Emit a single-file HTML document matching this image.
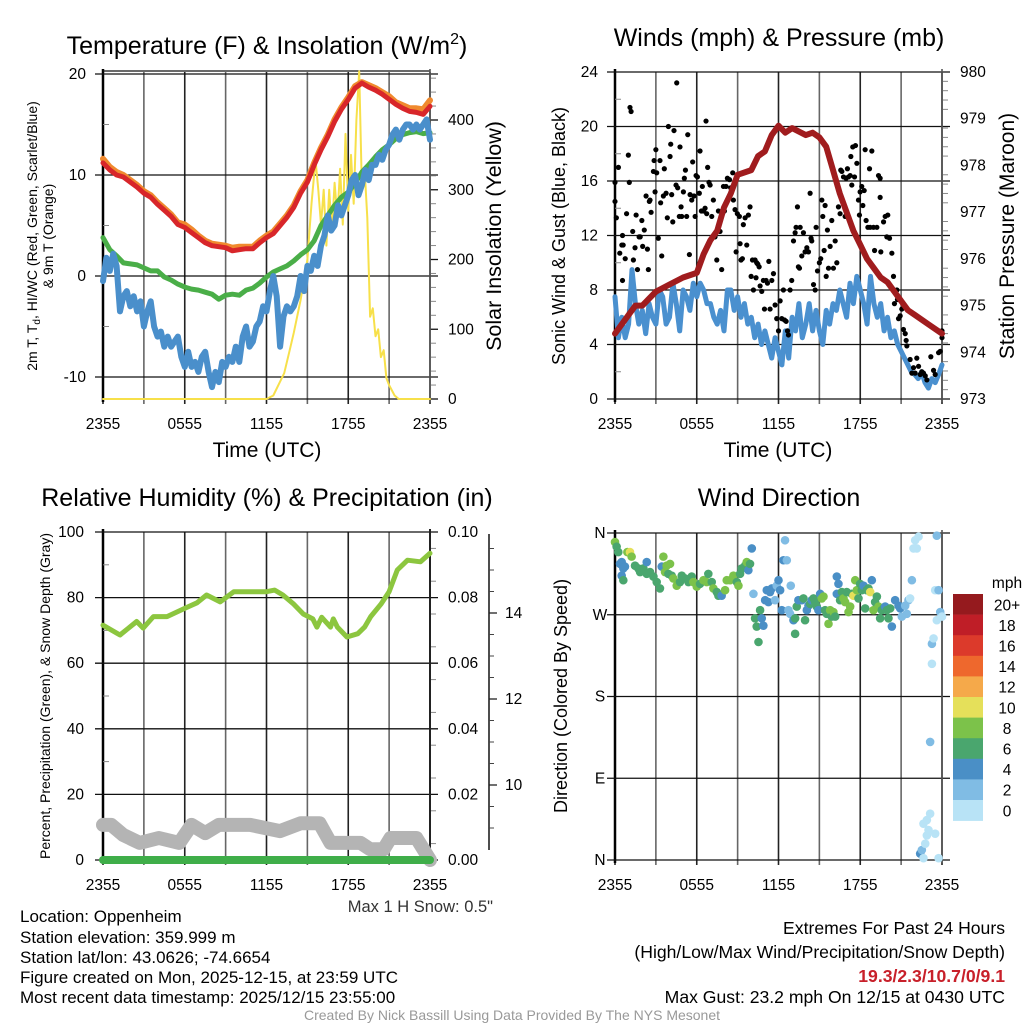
<!DOCTYPE html>
<html><head><meta charset="utf-8"><style>
html,body{margin:0;padding:0;background:#fff;}
svg{display:block;font-family:"Liberation Sans",sans-serif;}
</style></head><body>
<svg id="fig" width="1024" height="1024" viewBox="0 0 1024 1024" xmlns="http://www.w3.org/2000/svg">
<g font-size="25" text-anchor="middle" fill="#000">
<text x="267" y="54">Temperature (F) &amp; Insolation (W/m<tspan font-size="16" dy="-10">2</tspan><tspan dy="10">)</tspan></text>
<text x="779" y="46">Winds (mph) &amp; Pressure (mb)</text>
<text x="267" y="506">Relative Humidity (%) &amp; Precipitation (in)</text>
<text x="779" y="506">Wind Direction</text>
</g>
<g id="p1"></g>
<g id="p2"></g>
<g id="p3"></g>
<g id="p4"></g>
<g font-size="17" fill="#000">
<text x="20" y="922">Location: Oppenheim</text>
<text x="20" y="943">Station elevation: 359.999 m</text>
<text x="20" y="963">Station lat/lon: 43.0626; -74.6654</text>
<text x="20" y="983">Figure created on Mon, 2025-12-15, at 23:59 UTC</text>
<text x="20" y="1003">Most recent data timestamp: 2025/12/15 23:55:00</text>
<g font-size="17.6">
<text x="1005" y="934" text-anchor="end">Extremes For Past 24 Hours</text>
<text x="1005" y="958" text-anchor="end">(High/Low/Max Wind/Precipitation/Snow Depth)</text>
<text x="1005" y="982" text-anchor="end" fill="#c8202a" font-weight="bold">19.3/2.3/10.7/0/9.1</text>
<text x="1005" y="1003" text-anchor="end">Max Gust: 23.2 mph On 12/15 at 0430 UTC</text>
</g>
<text x="493" y="912" text-anchor="end" fill="#333" font-size="16.5">Max 1 H Snow: 0.5"</text>
<text x="512" y="1020" text-anchor="middle" font-size="14" fill="#999">Created By Nick Bassill Using Data Provided By The NYS Mesonet</text>
</g>
</svg>
<script>
// ---------- DATA ----------
const xTickLabels = ["2355","0555","1155","1755","2355"];
const halfHours = [0,0.5,1,1.5,2,2.5,3,3.5,4,4.5,5,5.5,6,6.5,7,7.5,8,8.5,9,9.5,10,10.5,11,11.5,12,12.5,13,13.5,14,14.5,15,15.5,16,16.5,17,17.5,18,18.5,19,19.5,20,20.5,21,21.5,22,22.5,23,23.5,24];
const temp2m = [11.2,10.5,10,9.8,9.3,8.8,8.2,7.8,7.1,6.5,5.9,5.1,4.8,4.3,3.8,3.3,3.0,2.9,2.8,2.5,2.6,2.7,2.7,3.3,3.8,4.2,5,5.8,6.8,8.2,9.3,11,12.5,13.8,15.3,16.5,17.5,18.6,19.1,18.7,18.4,18.0,17.5,17.0,16.6,16.3,16.2,16.0,16.8];
const temp9m = [11.6,10.8,10.3,10.0,9.5,9.0,8.4,8.0,7.3,6.7,6.1,5.3,5.1,4.6,4.0,3.5,3.2,3.1,3.0,2.8,2.9,2.9,2.9,3.5,4.0,4.4,5.2,6.0,7.0,8.4,9.5,11.2,12.7,14.0,15.5,16.7,17.7,18.8,19.2,18.9,18.6,18.2,17.8,17.2,16.9,16.6,16.6,16.5,17.4];
const dewpoint = [3.8,2.6,2,1.3,1.2,1.1,0.8,0.5,0.5,-0.1,-0.4,-0.8,-1.1,-1.3,-1.4,-1.6,-1.8,-2.3,-1.9,-1.8,-1.9,-1.4,-1.2,-0.7,-0.1,0.4,0.7,1.0,1.5,2.1,2.6,3.5,5.0,6,7,7.8,8.3,9.2,10.3,11,11.8,12.5,13,13.6,14.0,14.2,14.3,14.1,14.2];
const wcHours = [0,0.25,0.5,0.75,1,1.25,1.5,1.75,2,2.25,2.5,2.75,3,3.25,3.5,3.75,4,4.25,4.5,4.75,5,5.25,5.5,5.75,6,6.25,6.5,6.75,7,7.25,7.5,7.75,8,8.25,8.5,8.75,9,9.25,9.5,9.75,10,10.25,10.5,10.75,11,11.25,11.5,11.75,12,12.25,12.5,12.75,13,13.25,13.5,13.75,14,14.25,14.5,14.75,15,15.25,15.5,15.75,16,16.25,16.5,16.75,17,17.25,17.5,17.75,18,18.25,18.5,18.75,19,19.25,19.5,19.75,20,20.25,20.5,20.75,21,21.25,21.5,21.75,22,22.25,22.5,22.75,23,23.25,23.5,23.75,24];
const windChill = [-0.5,1.8,0.5,2.2,1,-3.5,-2,-1.5,-3,-2,-3.5,-2.5,-5,-3.5,-2.5,-5,-6,-5.5,-7,-6,-7,-6.5,-6,-8,-9,-7.5,-9,-8.5,-9.5,-8,-7.5,-9.5,-11,-9.5,-10.5,-8.5,-9,-8,-8.5,-7,-8.5,-6,-5,-7,-6.5,-5,-4.5,-3,-3.5,-1.5,0,-2,-7,-4,-3,-3.5,-3,-2,0,-1.5,1,0.5,2,1,3,4,6,4.5,5,7,6,7,8,9.5,10,8,9,10.5,9.5,11,11,12,11.5,12.5,13,14,14.5,13.5,14.5,15,15,14.5,15,14.5,15,15.5,13.5];
const solarHours = [0,12,12.5,13,13.3,13.7,14,14.5,15,15.3,15.6,15.8,16,16.2,16.4,16.6,16.8,17,17.2,17.4,17.6,17.8,18,18.2,18.4,18.6,18.8,19,19.2,19.4,19.6,19.8,20,20.2,20.4,20.6,20.8,21,21.4,21.7,24];
const solarValues = [0,0,5,25,37,70,95,142,200,280,343,300,250,300,220,300,240,310,260,330,250,380,270,350,280,400,470,300,330,260,118,130,90,100,60,70,30,20,5,0,0];
const windHours = [0,0.25,0.5,0.75,1,1.25,1.5,1.75,2,2.25,2.5,2.75,3,3.25,3.5,3.75,4,4.25,4.5,4.75,5,5.25,5.5,5.75,6,6.25,6.5,6.75,7,7.25,7.5,7.75,8,8.25,8.5,8.75,9,9.25,9.5,9.75,10,10.25,10.5,10.75,11,11.25,11.5,11.75,12,12.25,12.5,12.75,13,13.25,13.5,13.75,14,14.25,14.5,14.75,15,15.25,15.5,15.75,16,16.25,16.5,16.75,17,17.25,17.5,17.75,18,18.25,18.5,18.75,19,19.25,19.5,19.75,20,20.25,20.5,20.75,21,21.25,21.5,21.75,22,22.25,22.5,22.75,23,23.25,23.5,23.75,24];
const windSpeed = [7.5,4.5,6,4.5,5.5,9.5,7,5.5,6.5,4.8,7,6,5.5,8,7.5,5.5,6,8.5,7,5,8,7.5,6.5,8.5,7.5,8.5,8,7,7,6,5.5,6.5,5,8,8,6.5,7.5,6,7,5.5,6,4.5,5.5,4,5,4,3,4.5,3.5,2.5,5,3,6,5,7,4.5,5.5,7,5,6.5,5,4,6.5,5.5,7,6.5,8,7,6,8.5,7,9,8,7,5.5,9,7,6,7,5,6,4.5,5,4,3.5,3,2.5,2,1.8,1.5,2,1.2,0.8,1.5,1.2,1.8,2.5];
const pressHours = [0,1,1.5,2,3,4,5,6,6.5,7,7.5,8,8.5,9,10,10.5,11,11.5,12,12.5,13,14,14.5,15,15.5,16,16.5,17,17.5,18,18.5,19,19.5,20,21,21.5,22,23,24];
const pressValues = [974.4,974.8,975.0,975.0,975.3,975.45,975.6,975.7,976.1,976.4,976.6,977.1,977.4,977.8,977.9,978.2,978.3,978.65,978.85,978.7,978.8,978.65,978.7,978.6,978.4,977.9,977.4,977.0,976.6,976.3,976.0,975.8,975.6,975.5,975.1,974.9,974.8,974.6,974.4];
const gustHours = [0,0,0.1,0.25,0.35,0.5,0.55,0.6,0.75,0.55,0.85,0.98,1.05,1.1,1.18,1.3,1.35,1.47,1.55,1.65,1.77,1.85,1.97,2.03,2.15,2.28,2.38,2.45,2.52,2.57,2.65,2.82,2.87,2.94,3.0,3.06,3.18,3.3,3.35,3.43,3.55,3.62,3.75,3.84,3.92,4.04,4.09,4.16,4.24,4.33,4.48,4.53,4.6,4.72,4.77,4.85,4.9,5.02,5.09,5.17,5.26,5.34,5.46,5.51,5.63,5.7,5.8,5.88,5.95,6.05,6.19,6.24,6.34,6.41,6.49,6.61,6.68,6.73,6.8,6.9,6.98,7.1,7.22,7.34,7.47,7.59,7.71,7.83,7.96,8.03,8.15,8.25,8.4,8.49,8.64,8.69,8.81,8.89,8.98,9.13,9.18,9.25,9.35,9.42,9.55,9.67,9.79,9.91,9.99,10.09,10.16,10.28,10.35,10.4,10.48,10.58,10.65,10.77,10.89,10.97,11.09,11.19,11.29,11.38,11.51,11.63,11.75,11.87,12.0,12.12,12.24,12.36,12.44,12.56,12.66,12.73,12.85,12.97,13.1,13.22,13.29,13.39,13.46,13.54,13.59,13.71,13.83,13.95,14.08,14.2,14.32,14.39,14.44,14.57,14.69,14.76,14.86,15.0,15.1,15.18,15.25,15.35,15.42,15.5,15.59,15.67,15.79,15.91,16.03,16.16,16.28,16.4,16.52,16.57,16.65,16.77,16.89,16.96,17.06,17.14,17.26,17.31,17.38,17.45,17.58,17.65,17.75,17.87,17.94,17.99,18.11,18.19,18.29,18.36,18.43,18.56,18.68,18.73,18.85,18.97,19.05,19.22,19.34,19.46,19.46,19.51,19.71,19.83,19.95,20.02,20.15,20.32,20.44,20.51,20.69,20.73,20.81,20.93,21.05,21.17,21.3,21.37,21.42,21.66,21.79,21.91,22.03,22.15,22.28,22.4,22.52,22.64,22.77,22.89,23.18,23.38,23.5,23.75,23.87,24,24];
const gustValues = [15.9,14.5,13.3,17,10.7,11.3,12,11.3,10.3,8.7,13.6,17.9,15.9,21.4,21.1,12.3,10.2,11.1,13.5,9.5,11.9,11.9,13.1,11.2,12.4,14.9,11,9.5,14.5,14.6,13.7,16.7,17.5,15.2,18.3,16.6,11.8,17.5,14.4,10.5,14.9,16.9,15.1,13.3,20,17.8,18.7,15,13,19.7,15.7,23.2,15.5,13.4,18.5,14.1,13.4,15.2,16.2,16.8,13.4,19.4,10.6,15,14.6,17.4,14.9,13.4,16.4,16.3,15.1,18.2,13.8,15.6,13.8,14,20.4,13.6,17,15.9,15.7,13.4,14.6,11.9,10.2,13.8,12.3,9.5,15.6,13.8,15.6,16.2,16.1,15.5,16.6,14.6,13.9,10.8,13.6,13.4,11.4,10.2,10.3,12.8,13.3,11.3,13.5,14.1,9,10.2,8,10.2,8.9,10,9.9,9.7,8.3,7.9,8.7,6.6,8.7,8.5,10.1,6.6,8.7,9.2,6.9,5.9,5,7.2,5.9,8,5.8,5.7,5,4.7,8,8.7,11.6,12.2,12.6,14.1,9.7,9.6,12.6,10.5,12.2,10.8,11.1,10.8,15.1,11.8,11.6,8.4,8,12.6,9.4,10,10.3,14.6,13.4,10.9,14.2,9,12.4,9.6,11.2,13.1,9.6,11.6,10,14.1,13.6,16.8,16.7,16.3,13.4,16.2,16.9,16.3,16.4,17.8,15.7,18.5,16.3,18.6,17.3,14.6,13.5,15.2,15.6,14.2,15.3,18.3,13.1,12.6,16.9,12.6,18.2,12.6,10.9,12.6,16.4,16.2,14.8,10.8,13,13.4,11.9,13.5,11.8,10.7,9,7,8,7.3,5.9,6.1,6.6,5.1,4.8,4.3,3.9,2.9,1.9,2.3,1.9,3,2.4,1.8,2,1.9,1.7,1.4,3.1,2.1,1.8,3.4,3.5,5,4.5];
const rhHours = [0,1.25,2.47,2.95,3.7,4.7,6.03,6.9,7.6,8.6,9.6,11.05,12,12.6,13.2,14,14.7,15.4,15.7,16.05,16.7,16.9,17.2,17.9,18.7,19.2,19.65,20.4,21,21.6,22.35,23.3,24];
const rhValues = [71.6,68.6,72.7,70.7,74.2,74.2,76.8,78.4,80.8,78.7,81.8,81.8,81.8,82.3,80.8,78,75,73.5,71,74,71,73.5,71,68,69,71,74.2,78,81.8,88.4,91.4,90.9,93.5];
const snowHours = [0,0.6,1.5,2.7,4.1,5.6,6.5,7.5,8.5,10.8,13,14.5,15.9,16.7,18.9,19.6,20.6,21.1,23,24];
const snowValues = [10.7,10.7,7.6,5.2,6.7,5.2,10.7,8.2,10.7,10.7,8.8,11.2,11.2,5.2,5.2,3.3,3.3,6.7,6.7,0];
const precipHours = [0,24];
const precipValues = [0,0];
const dirHours = [0,0.12,0.24,0.37,0.49,0.61,0.73,0.49,0.61,0.91,1.1,1.22,1.47,1.71,1.84,2.08,2.33,2.33,2.57,2.82,3.06,3.3,3.43,3.55,3.67,3.79,4.04,3.92,4.16,4.28,4.53,4.77,4.9,5.14,5.39,5.63,5.75,6,6.24,6.49,6.73,6.85,7.1,7.22,7.47,7.59,7.83,8.08,8.2,8.45,8.69,8.94,9.06,9.18,9.3,9.55,9.67,9.79,9.91,10.04,10.16,10.28,10.4,10.53,10.65,10.77,10.89,11.02,11.14,11.26,11.38,11.51,11.75,11.87,12,12.12,12.24,12.36,12.48,12.61,12.73,12.85,12.9,13.1,13.22,13.22,13.34,13.46,13.71,13.83,13.95,14.08,14.2,14.32,14.44,14.57,14.69,14.81,14.93,15.06,15.18,15.3,15.42,15.54,15.67,15.79,15.91,16.03,16.16,16.28,16.28,16.4,16.52,16.65,16.77,16.89,17.01,17.14,17.26,17.38,17.5,17.63,17.75,17.87,17.99,18.11,18.24,18.36,18.48,18.6,18.73,18.85,18.97,19.09,19.22,19.34,19.46,19.58,19.71,19.83,19.95,20.07,20.2,20.32,20.56,20.81,20.93,21.05,21.3,21.42,21.54,21.66,21.79,21.91,22.03,22.15,22.28,22.4,22.52,22.64,22.77,22.89,23.01,22.64,22.89,23.13,23.13,23.26,23.38,23.26,23.5,23.62,23.75,23.87,24,23.62,23.5,23.75];
const dirDegrees = [350,345,339,326,328,321,323,313,308,339,339,334,324,321,317,321,328,315,317,312,306,299,323,334,317,324,326,315,313,310,302,306,313,310,306,312,306,301,304,308,306,315,306,299,295,291,291,297,308,308,313,306,302,315,321,324,328,319,326,343,293,266,257,240,275,266,258,286,297,284,295,299,286,302,308,297,275,330,352,330,275,271,302,264,249,266,279,286,286,288,264,275,280,282,286,288,284,279,275,293,288,290,275,271,260,275,268,273,268,293,312,304,286,295,288,284,295,273,279,293,291,308,297,288,304,297,302,277,297,299,295,308,275,284,290,279,266,275,277,279,275,266,277,257,286,280,277,268,280,271,286,288,308,343,352,343,356,7,11,2,18,27,33,40,44,51,130,238,244,216,297,357,297,273,268,264,29,2,9];
const dirSpeeds = [8,6,6,4,4,4,4,4,6,8,10,8,6,6,6,6,4,6,6,6,6,6,4,8,8,8,8,6,6,8,8,6,6,6,6,6,8,8,6,8,8,6,6,8,6,6,4,8,8,8,8,6,8,6,6,6,8,4,6,4,2,6,6,6,6,4,4,4,4,4,4,4,2,2,4,4,4,4,2,2,2,2,2,4,6,6,6,4,4,6,6,4,4,6,4,6,6,6,4,4,8,8,6,6,8,8,6,8,6,4,4,4,6,6,8,8,6,8,8,6,10,8,8,6,6,6,4,6,6,6,10,4,8,6,6,8,6,6,6,4,6,6,6,4,4,4,4,2,2,2,2,0,2,0,0,0,0,4,2,0,0,0,0,0,0,0,2,2,0,0,0,2,2,2,0,0,0,0];
const colorbarLabels = ["20+","18","16","14","12","10","8","6","4","2","0"];
const directionLabels = ["N","W","S","E","N"];

// ---------- HELPERS ----------
const NS = "http://www.w3.org/2000/svg";
function mk(parent, tag, attrs, text){
  const e = document.createElementNS(NS, tag);
  for (const k in attrs) e.setAttribute(k, attrs[k]);
  if (text !== undefined) e.textContent = text;
  parent.appendChild(e);
  return e;
}
function linScale(d0,d1,r0,r1){ return v => r0 + (v-d0)*(r1-r0)/(d1-d0); }
function pathFrom(xs, ys, sx, sy){
  return xs.map((h,i)=>(i?"L":"M")+sx(h).toFixed(1)+","+sy(ys[i]).toFixed(1)).join("");
}
const speedColors = ["#b8e3f6","#80bce4","#4a8fc6","#4aa66e","#7cc24a","#e5e05a","#f5a94a","#ee682d","#dc3a2b","#bf1e27","#951a1e"];
function speedColor(s){ s = (s===undefined||isNaN(s))?0:s; return speedColors[Math.max(0,Math.min(10, Math.floor(s/2)))]; }

function frame(g, x0, x1, yTop, yBot, sx, name){
  for (let h=0; h<=24; h+=3){
    const l = mk(g,"line",{x1:sx(h),x2:sx(h),y1:yTop,y2:yBot+5,stroke:(h%6===0)?"#222":"#666","stroke-width":1.6});
    
    
  }
  xTickLabels.forEach((t,i)=>{
    const tx = mk(g,"text",{x:sx(i*6),y:yBot+30,"font-size":15.5,"text-anchor":"middle"},t);
    
    
  });
  const lb = mk(g,"line",{x1:x0,x2:x0,y1:yTop-3,y2:yBot+3,stroke:"#000","stroke-width":2.5});
  
  
}
function hgrid(g, x0, x1, y, name, label, lx, anchor){
  const l = mk(g,"line",{x1:x0-8,x2:x1+8,y1:y,y2:y,stroke:"#111","stroke-width":1.3});
  
  
  if (label!==undefined){
    const t = mk(g,"text",{x:lx,y:y+5,"font-size":15.5,"text-anchor":anchor},label);
    
    
  }
}
function minorTicks(g, x, ys, dir, name){
  ys.forEach(y=>{
    const l = mk(g,"line",{x1:x,x2:x+dir*6,y1:y,y2:y,stroke:"#888","stroke-width":1});
    
    
  });
}
function series(g, xs, ys, sx, sy, color, w, name){
  const p = mk(g,"path",{d:pathFrom(xs,ys,sx,sy),fill:"none",stroke:color,"stroke-width":w,"stroke-linejoin":"round","stroke-linecap":"round"});
  
  
  return p;
}

// ---------- PANEL 1 ----------
(function(){
  const g = document.getElementById("p1");
  const x0=103,x1=430,yTop=72,yBot=399;
  const sx = linScale(0,24,x0,x1);
  const sy = linScale(0,10,276,175);
  const sr = linScale(0,400,399,120);
  frame(g,x0,x1,yTop,yBot,sx,"temp");
  [20,10,0,-10].forEach(v=>hgrid(g,x0,x1,sy(v),"temp",String(v),86,"end"));
  mk(g,"line",{x1:x0,x2:x1,y1:yTop-1,y2:yTop-1,stroke:"#111","stroke-width":1.2});
  mk(g,"line",{x1:x0,x2:x1,y1:yBot,y2:yBot,stroke:"#111","stroke-width":1.3});
  [0,100,200,300,400].forEach(v=>{
    const t = mk(g,"text",{x:448,y:sr(v)+5,"font-size":15.5,"text-anchor":"start"},String(v));
    
    
    mk(g,"line",{x1:x1,x2:x1+8,y1:sr(v),y2:sr(v),stroke:"#111","stroke-width":1.3});
  });
  const minorR=[]; for(let v=20; v<=460; v+=20){ if(v%100) minorR.push(sr(v)); }
  minorTicks(g,x1,minorR,1,"solar");
  minorTicks(g,x0,[sy(15),sy(5),sy(-5)],1,"temp");
  mk(g,"line",{x1:x1,x2:x1,y1:yTop-3,y2:yBot+3,stroke:"#555","stroke-width":1.6});
  series(g,solarHours,solarValues,sx,sr,"#f7e04a",2,"solar-insolation-line");
  series(g,halfHours,dewpoint,sx,sy,"#4aae48",5,"dewpoint-line");
  series(g,wcHours,windChill,sx,sy,"#4a8fcb",6,"wind-chill-line");
  series(g,halfHours,temp9m,sx,sy,"#f08a2e",6,"temp-9m-line");
  series(g,halfHours,temp2m,sx,sy,"#d8262a",5,"temp-2m-line");
  const t1 = mk(g,"text",{x:267,y:457,"font-size":21,"text-anchor":"middle"},"Time (UTC)");
   
  const yt = mk(g,"text",{transform:"translate(37,236) rotate(-90)","font-size":14,"text-anchor":"middle"});
   
  mk(yt,"tspan",{x:0,y:0},"2m T, T");
  mk(yt,"tspan",{"font-size":10,dy:3},"d");
  mk(yt,"tspan",{dy:-3},", HI/WC (Red, Green, Scarlet/Blue)");
  mk(yt,"tspan",{x:0,dy:16},"& 9m T (Orange)");
  const rt = mk(g,"text",{transform:"translate(501,236) rotate(-90)","font-size":21.5,"text-anchor":"middle"},"Solar Insolation (Yellow)");
   
})();

// ---------- PANEL 2 ----------
(function(){
  const g = document.getElementById("p2");
  const x0=615,x1=942,yTop=72,yBot=399;
  const sx = linScale(0,24,x0,x1);
  const sy = linScale(0,24,399,72);
  const sp = linScale(973,980,399,72);
  frame(g,x0,x1,yTop,yBot,sx,"wind");
  [0,4,8,12,16,20,24].forEach(v=>hgrid(g,x0,x1,sy(v),"wind",String(v),598,"end"));
  for(let p=973;p<=980;p++){
    const t = mk(g,"text",{x:960,y:sp(p)+5,"font-size":15.5},String(p));
     
  }
  const mr=[]; for(let p=973.2;p<980;p+=0.2){ if(Math.abs(p-Math.round(p))>0.05) mr.push(sp(p)); }
  minorTicks(g,x1,mr,1,"pressure");
  minorTicks(g,x0,[2,6,10,14,18,22].map(sy),1,"wind");
  mk(g,"line",{x1:x1,x2:x1,y1:yTop-3,y2:yBot+3,stroke:"#555","stroke-width":1.6});
  series(g,windHours,windSpeed,sx,sy,"#4a90cf",5,"sonic-wind-line");
  gustHours.forEach((h,i)=>{
    const c = mk(g,"circle",{cx:sx(h),cy:sy(gustValues[i]),r:2.6,fill:"#000"});
    
    
  });
  series(g,pressHours,pressValues,sx,sp,"#a01c1e",6,"pressure-line");
  const t1 = mk(g,"text",{x:778,y:457,"font-size":21,"text-anchor":"middle"},"Time (UTC)");
   
  const yt = mk(g,"text",{transform:"translate(565,236) rotate(-90)","font-size":18,"text-anchor":"middle"},"Sonic Wind & Gust (Blue, Black)");
   
  const rt = mk(g,"text",{transform:"translate(1014,236) rotate(-90)","font-size":21,"text-anchor":"middle"},"Station Pressure (Maroon)");
   
})();

// ---------- PANEL 3 ----------
(function(){
  const g = document.getElementById("p3");
  const x0=103,x1=430,yTop=532,yBot=860;
  const sx = linScale(0,24,x0,x1);
  const sy = linScale(0,100,860,532);
  const sp = linScale(0,0.1,860,532);
  frame(g,x0,x1,yTop,yBot,sx,"rh");
  [0,20,40,60,80,100].forEach(v=>hgrid(g,x0,x1,sy(v),"rh",String(v),84,"end"));
  [0,0.02,0.04,0.06,0.08,0.10].forEach(v=>{
    const t = mk(g,"text",{x:448,y:sp(v)+5,"font-size":15.5},v.toFixed(2));
     
  });
  minorTicks(g,x0,[10,30,50,70,90].map(sy),1,"rh");
  minorTicks(g,x1,[5,15,25,35,45,55,65,75,85,95].map(v=>sy(v)),1,"precip");
  mk(g,"line",{x1:x1,x2:x1,y1:yTop-3,y2:yBot+3,stroke:"#222","stroke-width":2});
  const sa = mk(g,"line",{x1:489,x2:489,y1:yTop+2,y2:yBot-10,stroke:"#222","stroke-width":1.6});
   
  const ss = linScale(10,14,785,613);
  [10,12,14].forEach(v=>{
    mk(g,"line",{x1:489,x2:497,y1:ss(v),y2:ss(v),stroke:"#222","stroke-width":1.3});
    const t = mk(g,"text",{x:505,y:ss(v)+5,"font-size":15.5},String(v));
     
  });
  for(let v=9;v<=15.5;v+=0.5){ if(v%2) mk(g,"line",{x1:489,x2:494,y1:ss(v),y2:ss(v),stroke:"#444","stroke-width":1}); }
  series(g,snowHours,snowValues,sx,sy,"#b4b4b4",14,"snow-depth-line");
  series(g,precipHours,precipValues,sx,sp,"#3fae49",8,"precip-line");
  series(g,rhHours,rhValues,sx,sy,"#8cc63f",5,"rh-line");
  const yt = mk(g,"text",{transform:"translate(50,696) rotate(-90)","font-size":14,"text-anchor":"middle"},"Percent, Precipitation (Green), & Snow Depth (Gray)");
   
})();

// ---------- PANEL 4 ----------
(function(){
  const g = document.getElementById("p4");
  const x0=615,x1=942,yTop=533,yBot=860;
  const sx = linScale(0,24,x0,x1);
  const sd = linScale(0,360,860,533);
  frame(g,x0,x1,yTop,yBot,sx,"dir");
  [360,270,180,90,0].forEach((d,i)=>hgrid(g,x0,x1,sd(d),"dir",directionLabels[i],600,"middle"));
  mk(g,"line",{x1:x1,x2:x1,y1:yTop-3,y2:yBot+3,stroke:"#555","stroke-width":1.6});
  dirHours.forEach((h,i)=>{
    const c = mk(g,"circle",{cx:sx(h),cy:sd(dirDegrees[i]),r:4.3,fill:speedColor(dirSpeeds[i])});
    
    
  });
  const yt = mk(g,"text",{transform:"translate(567,696) rotate(-90)","font-size":18,"text-anchor":"middle"},"Direction (Colored By Speed)");
   
  const cb = mk(g,"g",{});
  
  
  const bh = 20.6;
  colorbarLabels.forEach((lab,i)=>{
    const r = mk(cb,"rect",{x:953,y:594+i*bh,width:30,height:bh+0.3,fill:speedColors[10-i]});
    
    
    const t = mk(cb,"text",{x:1007,y:594+i*bh+bh/2+6,"font-size":15.5,"text-anchor":"middle"},lab);
    
    
  });
  const u = mk(cb,"text",{x:1007,y:588,"font-size":15.5,"text-anchor":"middle"},"mph");
  
  
})();
</script>
</body></html>
